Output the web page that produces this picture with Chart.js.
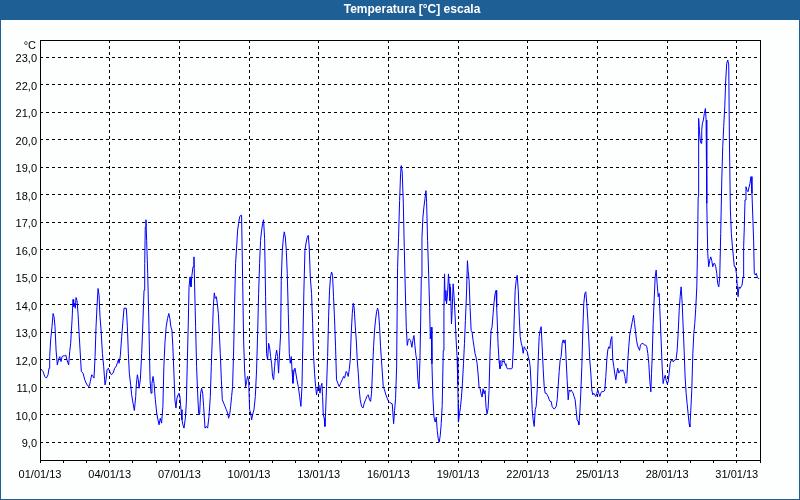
<!DOCTYPE html>
<html>
<head>
<meta charset="UTF-8">
<title>Temperatura [°C] escala</title>
<script src="https://cdn.jsdelivr.net/npm/chart.js@4"></script>
<style>
  html, body { margin: 0; padding: 0; background: #fdfefe; }
  canvas { display: block; }
</style>
</head>
<body>
<canvas id="chart" width="800" height="500"></canvas>
<script>
// Temperature log, January 2013 (x = hours since 01/01 00:00)
const titleText = 'Temperatura [°C] escala';
const unitLabel = '°C';
const dateLabels = ['01/01/13', '04/01/13', '07/01/13', '10/01/13', '13/01/13', '16/01/13',
  '19/01/13', '22/01/13', '25/01/13', '28/01/13', '31/01/13'];
const yTicks = [9, 10, 11, 12, 13, 14, 15, 16, 17, 18, 19, 20, 21, 22, 23];

const hours = [
  0, 3.1, 4.9, 6.6, 8.3, 9.3, 10, 11, 12.4, 13.5, 14.5, 15.5, 16.6, 17.9, 19, 20.4, 21.7, 22.8, 23.8, 25.5,
  26.6, 27.9, 29.6, 30.7, 31.7, 33.1, 34.1, 34.8, 35.5, 36.5, 37.2, 38.3, 39.3, 40.3, 41.4, 42.7, 44.5, 46.2, 48.6, 50.7,
  52, 53.4, 54.8, 55.8, 56.9, 57.9, 58.9, 60, 61, 62, 63.1, 64.5, 65.8, 67.2, 68.2, 69.3, 70.6, 72, 73.7, 75.5,
  77.2, 78.9, 80, 81, 81.7, 83, 84.4, 85.8, 86.8, 89.2, 90.3, 91.3, 92.3, 93.7, 94.7, 96.1, 97.5, 98.9, 99.5, 100.6,
  101.6, 102.3, 103.7, 105.1, 106.4, 107.5, 108.2, 108.8, 109.5, 110.2, 111.3, 112.6, 113.7, 114.7, 115.7, 116.8, 117.8, 119.2, 120.6, 121.9,
  123, 124.3, 125.6, 127, 128, 129.1, 130.4, 131.8, 133.1, 134.2, 135.2, 136.3, 137.3, 138.4, 139.4, 140.5, 141.5, 142.6, 143.6, 144.6,
  145.7, 146.7, 147.7, 148.8, 150.2, 151.2, 152.2, 153.3, 154, 155, 156, 157, 158.1, 159.1, 159.8, 160.8, 161.8, 162.9, 163.9, 164.9,
  166, 167, 168.1, 169.1, 170.5, 171.9, 173.2, 174.6, 176, 177, 178.1, 179.1, 180.1, 181.1, 182.2, 183.2, 184.3, 185.3, 186.3, 187.4,
  188.4, 189.8, 191.2, 192.5, 193.9, 194.9, 196, 197, 198, 199, 200.1, 201.1, 202.1, 203.2, 204.2, 205.2, 206.3, 207.3, 208.3, 209.4,
  210.4, 211.4, 212.5, 213.5, 214.5, 215.6, 216.6, 217.6, 218.7, 219.7, 221.1, 222.5, 223.8, 224.9, 225.9, 226.9, 227.9, 229, 230, 231,
  232.1, 233.1, 234.1, 235.2, 236.2, 237.2, 238.3, 239.3, 240.3, 241.4, 242.4, 243.4, 244.5, 245.5, 246.5, 247.9, 248.7, 249.3, 250.4, 251.4,
  252.4, 253.5, 254.5, 255.5, 256.6, 257.6, 258.6, 259.7, 260.4, 261.4, 262.4, 263.5, 264.5, 265.5, 266.9, 268.3, 269.6, 270.7, 271.7, 272.7,
  273.8, 275.1, 276.2, 277.2, 278.2, 279.3, 280.6, 281.7, 282.7, 283.7, 284.8, 285.8, 286.8, 288.2, 289.3, 290.3, 291.3, 292, 292.7, 293.7,
  294.4, 295.1, 296.1, 297.2, 298.2, 299.2, 300.2, 301.3, 302.3, 303.3, 304.4, 305.4, 306.4, 307.8, 309.2, 310.6, 312.3, 313.7, 314.7, 316.4,
  317.5, 318.5, 319.5, 320.6, 321.6, 322.7, 323.7, 324.7, 325.8, 326.8, 327.8, 328.9, 329.9, 330.9, 332.3, 333.7, 335.1, 336.4, 337.8, 339.2,
  340.5, 341.6, 342.6, 343.6, 344.7, 345.7, 346.7, 347.8, 348.8, 349.8, 350.9, 351.9, 353.3, 354.7, 356, 357.4, 358.8, 360.1, 361.2, 364,
  365.4, 366.4, 367.4, 368.5, 369.5, 370.5, 371.6, 372.6, 373.3, 374.3, 375.4, 376.4, 377.4, 378.5, 379.5, 380.5, 381.5, 382.9, 384.3, 385.3,
  386.4, 387.4, 388.5, 389.5, 390.5, 391.6, 392.6, 393.3, 394, 394.7, 395.7, 396.7, 397.8, 398.8, 399.5, 400.5, 401.6, 402.6, 403.3, 404.3,
  405, 406, 407.1, 408.4, 409.5, 410.5, 411.5, 412.5, 413.6, 414.6, 415.6, 416.7, 417.4, 418, 418.7, 419.4, 420.1, 421.1, 422.1, 422.8,
  423.5, 424.2, 425.2, 425.9, 426.9, 427.9, 429, 430, 431, 431.7, 432.1, 432.4, 433.5, 434.5, 435.5, 436.5, 437.6, 438.6, 439.6, 440.7,
  441.7, 442.4, 443.4, 444.4, 445.5, 446.5, 447.5, 448.6, 449.6, 450.6, 451.7, 452.7, 453.7, 454.8, 455.8, 456.8, 457.8, 458.9, 459.9, 460.9,
  462, 463, 464, 465.1, 466.1, 467.1, 468.2, 469.2, 470.2, 471.2, 471.9, 472.6, 473.3, 474.3, 475.3, 476.4, 477.4, 478.4, 479.5, 480.5,
  481.5, 482.9, 484.3, 485.6, 487, 488, 489, 490, 491, 492.1, 493.1, 494.2, 495.2, 496.2, 497.3, 498.3, 499.3, 500.4, 501.4, 502.4,
  503.5, 504.5, 505.5, 506.5, 507.6, 508.6, 509.6, 510.7, 511.7, 512.7, 513.8, 514.8, 515.8, 516.9, 517.9, 518.9, 520, 521, 522, 523.1,
  524.1, 525.1, 526.2, 527.2, 528.2, 529.2, 530.3, 531.3, 532.3, 533.4, 534.4, 535.4, 536.5, 537.5, 538.5, 539.6, 540.6, 541.6, 542.7, 543.7,
  544.7, 545.8, 546.8, 547.8, 548.9, 549.9, 550.9, 551.9, 553, 554, 555, 556.1, 556.8, 557.8, 558.8, 559.9, 560.9, 561.9, 563, 564,
  565, 566.1, 567.1, 568.1, 569.2, 570.2, 571.2, 572.3, 573.3, 574.3, 575.4, 576.4, 577.4, 578.5, 579.5, 580.5, 581.6, 582.6, 583.6, 584.7,
  585.7, 586.7, 587.8, 588.8, 589.8, 590.9, 591.9, 592.9, 593.9, 595, 596, 597, 598.1, 599.1, 600.1, 601.2, 602.2, 603.2, 604.3, 605.3,
  606.3, 607.4, 608.4, 609.4, 610.5, 612, 613.3, 614.4, 615.4, 616.4, 617.4, 618.5, 619.5, 620.5, 621.9, 623.3, 624.6, 626, 627, 628.1,
  629.1, 630.1, 631.2, 631.9, 632.6, 633.6, 634.6, 635.7, 636.7, 637.7, 638.8, 639.8, 640.8, 641.8, 642.9, 643.9, 644.9, 646, 647, 648.1,
  649.1, 650.1, 651.2, 652.2, 653.2, 654.3, 655.3, 656.3, 657.4, 658.4, 659.4, 660.5, 661.5, 662.5, 663.6, 664.6, 665.6, 666.6, 667.7, 668.7,
  669.7, 670.8, 671.5, 672.5, 673.5, 674.6, 675.6, 676.6, 677.7, 678.7, 679.4, 680.1, 680.4, 680.8, 681.4, 682.1, 683.1, 683.8, 684.5, 685.5,
  686.5, 687.6, 688.3, 689, 690, 691, 692.1, 693.1, 694.1, 695.2, 696.2, 697.2, 698.3, 699.3, 700.3, 701.4, 702.4, 703.4, 704.5, 705.5,
  706.5, 707.6, 708.6, 709.6, 710.7, 711.7, 712.4, 713.4, 714.4, 715.5, 716.5, 717.5, 718.6, 719.6, 720.6, 721.3, 722.3, 723.4, 724.4, 725.4,
  726.5, 727.1, 727.8, 728.5, 729.5, 730.5, 731.6, 732.6, 733.6, 734.7, 735.7, 736.7, 737.4, 738.1, 739.1, 740.1, 741.2, 742.2, 743.2
];

const temps = [
  11.7, 11.57, 11.39, 11.33, 11.45, 11.69, 12.11, 12.72, 13.2, 13.68, 13.56, 13.2, 12.35, 11.81, 11.99, 12.11, 11.93, 12.11, 12.14, 12.14,
  12.17, 11.99, 11.81, 12.29, 12.6, 13.44, 14.19, 13.93, 14.05, 13.87, 14.26, 14.14, 13.68, 13.02, 12.35, 11.57, 11.51, 11.27, 11.08, 11.02,
  11.2, 11.45, 11.39, 11.33, 12.11, 13.2, 13.93, 14.59, 14.35, 13.56, 13.08, 12.23, 11.75, 11.08, 11.27, 11.63, 11.69, 11.57, 11.45, 11.51,
  11.69, 11.77, 11.89, 11.99, 11.87, 12.14, 12.84, 13.44, 13.87, 13.87, 13.2, 12.23, 11.51, 11.08, 10.72, 10.42, 10.15, 10.66, 11.08, 11.45,
  11.27, 10.96, 11.27, 12.23, 13.44, 14.53, 15.5, 16.83, 17.09, 16.34, 15.13, 13.2, 11.27, 10.78, 11.14, 11.39, 11.14, 10.54, 10.06, 9.81,
  9.63, 9.87, 9.69, 10.3, 11.75, 12.6, 13.2, 13.5, 13.68, 13.5, 13.2, 13.08, 12.47, 11.51, 10.54, 10.24, 10.6, 10.72, 10.78, 10.66,
  10.18, 9.81, 9.63, 9.51, 9.87, 10.42, 11.87, 13.44, 14.65, 15.01, 14.65, 15.07, 15.38, 15.74, 14.65, 13.2, 11.75, 10.78, 10.06, 10.0,
  10.78, 10.96, 10.78, 10.3, 9.51, 9.57, 9.51, 9.93, 10.66, 11.75, 12.84, 13.93, 14.43, 14.23, 14.29, 14.05, 13.68, 12.96, 12.23, 11.27,
  10.54, 10.42, 10.3, 10.18, 10.06, 9.87, 10.0, 10.3, 10.66, 11.02, 12.35, 14.05, 15.5, 16.1, 16.71, 16.95, 17.19, 17.25, 17.25, 14.89,
  12.72, 11.63, 11.02, 11.2, 11.39, 11.27, 10.18, 10.06, 9.81, 10.0, 10.18, 10.66, 11.63, 12.96, 14.41, 15.5, 16.34, 16.71, 16.95, 17.09,
  16.4, 14.29, 12.23, 11.99, 12.6, 12.47, 12.11, 11.87, 11.39, 11.27, 11.75, 12.11, 12.35, 12.11, 11.51, 12.47, 12.96, 14.89, 15.98, 16.4,
  16.65, 16.46, 15.98, 15.13, 13.68, 12.23, 11.87, 12.11, 11.63, 11.14, 11.57, 11.69, 11.69, 11.27, 11.02, 10.66, 10.3, 11.02, 12.72, 14.53,
  15.98, 16.28, 16.46, 16.52, 16.1, 15.01, 14.41, 13.32, 12.11, 11.51, 11.02, 10.72, 10.96, 11.08, 10.78, 11.02, 11.14, 10.66, 10.0, 9.87,
  9.57, 10.06, 11.02, 12.11, 13.56, 14.53, 15.01, 15.19, 15.07, 14.29, 13.44, 12.47, 11.27, 11.14, 11.02, 11.14, 11.27, 11.39, 11.33, 11.57,
  11.51, 11.39, 11.63, 11.99, 12.96, 13.68, 14.05, 13.87, 13.2, 12.72, 11.99, 11.51, 10.9, 10.54, 10.3, 10.24, 10.42, 10.54, 10.66, 10.72,
  10.54, 10.48, 10.78, 11.63, 12.47, 13.08, 13.44, 13.74, 13.87, 13.74, 13.2, 12.47, 11.75, 11.02, 10.9, 10.72, 10.6, 10.48, 10.45, 10.39,
  9.67, 10.15, 10.58, 11.73, 15.36, 16.45, 17.79, 18.76, 19.06, 18.82, 17.73, 16.09, 14.64, 13.18, 12.52, 12.7, 12.76, 12.7, 12.45, 12.7,
  12.88, 12.52, 12.15, 11.97, 11.24, 10.94, 11.97, 13.3, 15.0, 16.45, 17.18, 17.55, 17.85, 18.15, 17.73, 16.33, 15.12, 13.91, 12.76, 13.18,
  11.85, 10.64, 9.91, 9.73, 9.91, 9.42, 9.12, 9.0, 9.24, 9.67, 10.33, 12.33, 13.79, 15.12, 14.15, 14.52, 14.03, 14.39, 15.12, 14.76,
  14.15, 14.64, 13.3, 13.79, 14.76, 14.27, 13.55, 12.7, 12.09, 11.12, 10.39, 9.73, 10.03, 10.27, 10.64, 11.12, 11.85, 12.58, 13.42, 14.39,
  15.6, 15.24, 14.88, 13.91, 13.06, 13.0, 12.7, 12.45, 12.21, 12.09, 11.85, 11.48, 11.0, 10.94, 10.76, 10.64, 10.94, 10.76, 10.88, 10.27,
  10.03, 10.21, 10.88, 12.33, 13.06, 13.18, 13.67, 14.09, 14.39, 14.52, 13.91, 13.3, 12.58, 11.97, 11.67, 11.79, 11.97, 11.91, 11.97, 11.85,
  11.79, 11.67, 11.67, 11.67, 11.67, 11.69, 12.35, 13.44, 14.53, 14.89, 15.07, 14.53, 13.56, 12.84, 12.6, 12.47, 12.23, 12.47, 12.41, 12.35,
  12.29, 12.11, 11.99, 11.75, 11.02, 10.18, 9.81, 9.57, 10.18, 10.3, 10.9, 11.99, 12.84, 13.08, 13.2, 12.47, 11.63, 11.02, 10.78, 10.78,
  10.72, 10.66, 10.54, 10.48, 10.48, 10.3, 10.24, 10.2, 10.24, 10.3, 10.54, 11.02, 11.57, 11.99, 12.11, 12.6, 12.72, 12.6, 12.72, 11.99,
  11.27, 10.54, 10.9, 10.84, 10.9, 10.84, 10.78, 10.66, 10.54, 10.18, 9.81, 9.75, 9.63, 10.06, 10.78, 11.75, 13.08, 14.05, 14.41, 14.47,
  14.05, 13.44, 12.72, 11.99, 11.51, 10.9, 10.72, 10.78, 10.72, 10.66, 10.78, 10.9, 10.78, 10.66, 10.78, 10.84, 10.84, 10.84, 10.9, 11.39,
  11.99, 12.35, 12.47, 12.41, 12.72, 12.84, 11.99, 11.75, 11.51, 11.27, 11.51, 11.69, 11.51, 11.57, 11.63, 11.57, 11.63, 11.57, 11.39, 11.14,
  11.2, 11.99, 12.47, 12.9, 13.1, 13.38, 13.62, 13.32, 13.01, 12.71, 12.53, 12.41, 12.34, 12.53, 12.59, 12.59, 12.53, 12.53, 12.47, 12.22,
  11.86, 11.25, 10.83, 11.5, 12.1, 13.32, 14.17, 15.01, 15.26, 14.77, 14.29, 14.41, 13.56, 12.71, 11.74, 11.13, 11.31, 11.43, 11.25, 11.13,
  11.19, 11.5, 11.86, 11.98, 11.98, 11.92, 11.98, 11.98, 12.04, 12.34, 12.95, 13.8, 14.29, 14.65, 14.04, 13.19, 12.34, 11.37, 10.77, 10.4,
  10.04, 9.67, 9.55, 10.16, 10.89, 12.22, 12.95, 13.32, 13.92, 14.65, 15.86, 17.93, 19.38, 20.78, 20.35, 19.99, 19.87, 20.35, 20.6, 20.72,
  20.96, 21.14, 20.72, 17.69, 15.86, 15.38, 15.62, 15.74, 15.62, 15.38, 15.5, 15.5, 15.38, 15.14, 14.77, 14.65, 15.01, 16.59, 18.53, 19.75,
  20.48, 21.2, 22.17, 22.78, 22.9, 22.72, 19.99, 17.44, 16.59, 16.11, 15.74, 15.38, 15.38, 15.14, 14.65, 14.29, 14.65, 14.59, 14.65, 14.71,
  15.01, 16.11, 16.83, 17.81, 18.29, 18.17, 18.11, 18.11, 18.41, 18.66, 18.05, 17.08, 16.35, 15.14, 15.08, 15.14, 15.01, 14.95, 14.95
];

const dayTicks = Array.from({ length: 32 }, (_, d) => d * 24);
const points = hours.map((h, i) => ({ x: h, y: temps[i] }));

Chart.defaults.font.family = '"Liberation Sans", Arial, sans-serif';
Chart.defaults.font.size = 11;
Chart.defaults.color = '#000';

// title bar, window frame, plot box and unit label
const frame = {
  id: 'frame',
  beforeDraw(chart) {
    const c = chart.ctx;
    c.save();
    c.fillStyle = '#fdfefe';
    c.fillRect(0, 0, chart.width, chart.height);
    c.fillStyle = '#1e5f96';
    c.fillRect(0, 0, chart.width, 20);
    c.strokeStyle = '#1e5f96';
    c.lineWidth = 1;
    c.strokeRect(0.5, 0.5, chart.width - 1, chart.height - 1);
    c.fillStyle = '#fff';
    c.font = 'bold 12px "Liberation Sans", Arial, sans-serif';
    c.textAlign = 'center';
    c.textBaseline = 'middle';
    c.fillText(titleText, 412, 10);
    c.restore();
  },
  afterDraw(chart) {
    const c = chart.ctx;
    const a = chart.chartArea;
    c.save();
    c.strokeStyle = '#000';
    c.lineWidth = 1;
    c.strokeRect(a.left + 0.5, a.top + 0.5, a.right - a.left, a.bottom - a.top);
    c.fillStyle = '#000';
    c.font = '11px "Liberation Sans", Arial, sans-serif';
    c.textAlign = 'right';
    c.textBaseline = 'middle';
    c.fillText(unitLabel, 36, 46);
    c.restore();
  }
};

new Chart(document.getElementById('chart'), {
  type: 'line',
  data: {
    datasets: [{
      data: points,
      borderColor: '#0000ff',
      borderWidth: 1,
      pointRadius: 0,
      tension: 0,
      fill: false
    }]
  },
  options: {
    responsive: false,
    animation: false,
    layout: { padding: { top: 40, right: 40, left: 0, bottom: 0 } },
    plugins: { legend: { display: false }, tooltip: { enabled: false }, title: { display: false } },
    scales: {
      x: {
        type: 'linear',
        min: 0,
        max: 744,
        afterBuildTicks: (s) => { s.ticks = dayTicks.map((v) => ({ value: v })); },
        afterFit: (s) => { s.height = 40; },
        grid: {
          color: (ctx) => (ctx.tick && ctx.tick.value % 72 === 0 && ctx.tick.value > 0 && ctx.tick.value < 744 ? '#000' : 'rgba(0,0,0,0)'),
          tickColor: '#000',
          tickLength: 3,
          tickWidth: 1,
          lineWidth: 1
        },
        border: { display: false, dash: [3, 3] },
        ticks: {
          autoSkip: false,
          maxRotation: 0,
          padding: 5,
          callback: (v) => (v % 72 === 0 ? dateLabels[v / 72] : '')
        }
      },
      y: {
        min: 8.35,
        max: 23.63,
        afterBuildTicks: (s) => { s.ticks = yTicks.map((v) => ({ value: v })); },
        afterFit: (s) => { s.width = 40; },
        grid: { color: '#000', drawTicks: false, lineWidth: 1 },
        border: { display: false, dash: [3, 3] },
        ticks: {
          padding: 3,
          labelOffset: 2,
          callback: (v) => v.toFixed(1).replace('.', ',')
        }
      }
    }
  },
  plugins: [frame]
});
</script>
</body>
</html>
